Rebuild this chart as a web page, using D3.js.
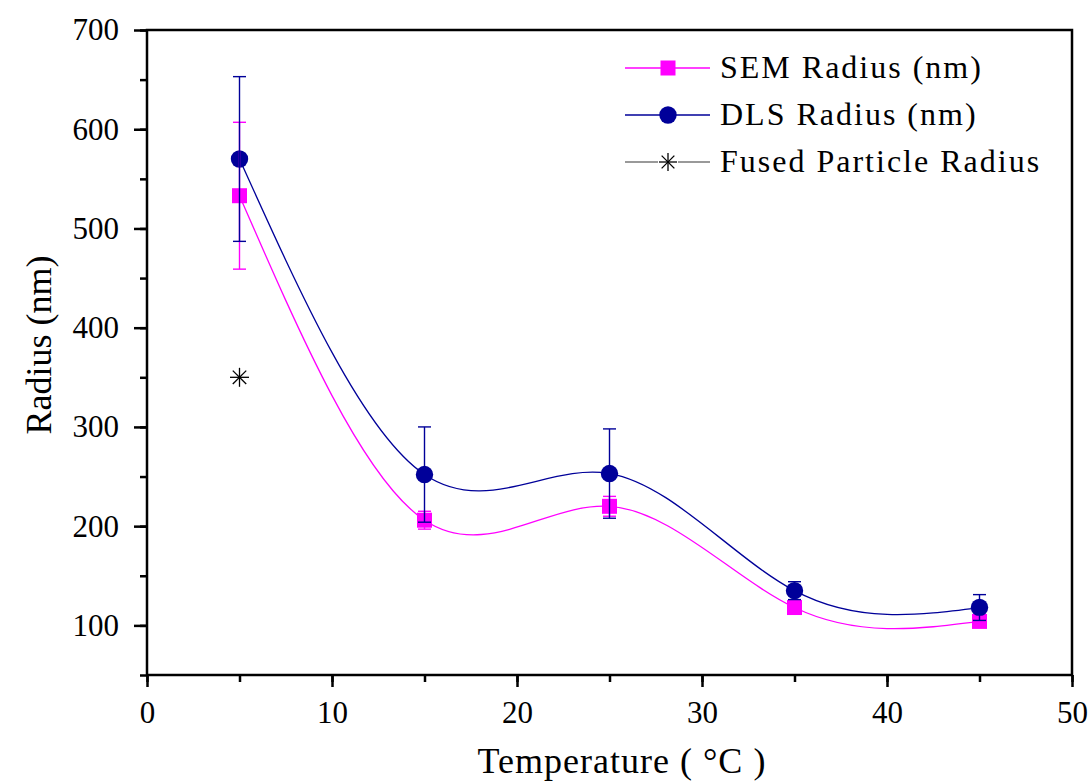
<!DOCTYPE html>
<html>
<head>
<meta charset="utf-8">
<script src="https://cdn.jsdelivr.net/npm/d3@7"></script>
<style>
  html, body { margin: 0; padding: 0; background: #fff; }
  svg { display: block; }
</style>
</head>
<body>
<svg id="chart" width="1091" height="782"></svg>
<script>
// Temperature points (°C)
const temperature = [5, 15, 25, 35, 45];
// SEM radius and its standard deviation (nm)
const semRadius = [533, 206, 220, 118, 104];
const semError  = [74, 9, 10, 5, 5];
// DLS radius and its standard deviation (nm)
const dlsRadius = [570, 252, 253, 135, 118];
const dlsError  = [83, 48, 45, 9, 13];
// Fused particle radius (single measurement)
const fusedTemp = [5];
const fusedRadius = [350];

const xTicks = [0, 10, 20, 30, 40, 50];
const yTicks = [100, 200, 300, 400, 500, 600, 700];

const SEM_COLOR = "#ff00ff";
const DLS_COLOR = "#000099";
const FONT = "'Liberation Serif', 'DejaVu Serif', serif";

const svg = d3.select("#chart").attr("font-family", FONT);
const plotLeft = 147, plotRight = 1072, plotTop = 30, plotBottom = 675;

const x = d3.scaleLinear().domain([0, 50]).range([plotLeft, plotRight]);
const y = d3.scaleLinear().domain([50, 700]).range([plotBottom, plotTop]);

// Minor ticks (every 5 °C and 50 nm), then labelled major ticks
const gx = svg.append("g").attr("transform", `translate(0,${plotBottom})`);
gx.call(d3.axisBottom(x).tickValues(d3.range(0, 51, 5)).tickSize(7).tickFormat(""));
gx.select(".domain").remove();
const gx2 = svg.append("g").attr("transform", `translate(0,${plotBottom})`);
gx2.call(d3.axisBottom(x).tickValues(xTicks).tickSize(12).tickPadding(14).tickFormat(d3.format("d")));
gx2.select(".domain").remove();

const gy = svg.append("g").attr("transform", `translate(${plotLeft},0)`);
gy.call(d3.axisLeft(y).tickValues(d3.range(50, 701, 50)).tickSize(7).tickFormat(""));
gy.select(".domain").remove();
const gy2 = svg.append("g").attr("transform", `translate(${plotLeft},0)`);
gy2.call(d3.axisLeft(y).tickValues(yTicks).tickSize(13).tickPadding(15).tickFormat(d3.format("d")));
gy2.select(".domain").remove();

svg.selectAll("g").attr("font-family", FONT);
svg.selectAll(".tick line").attr("stroke", "#000").attr("stroke-width", 2.5);
svg.selectAll(".tick text")
  .attr("font-family", FONT)
  .attr("font-size", 31)
  .attr("fill", "#000");
gx2.selectAll(".tick text").attr("dy", "0.71em");

// Frame
svg.append("rect")
  .attr("x", plotLeft).attr("y", plotTop)
  .attr("width", plotRight - plotLeft).attr("height", plotBottom - plotTop)
  .attr("fill", "none").attr("stroke", "#000").attr("stroke-width", 2.5);

// Axis titles
svg.append("text")
  .attr("x", 622).attr("y", 773)
  .attr("text-anchor", "middle")
  .attr("font-family", FONT)
  .attr("font-size", 36).attr("letter-spacing", 1)
  .text("Temperature ( °C )");

svg.append("text")
  .attr("transform", "translate(51,345) rotate(-90)")
  .attr("text-anchor", "middle")
  .attr("font-family", FONT)
  .attr("font-size", 36)
  .text("Radius (nm)");

const sem = temperature.map((t, i) => ({ t, r: semRadius[i], e: semError[i] }));
const dls = temperature.map((t, i) => ({ t, r: dlsRadius[i], e: dlsError[i] }));

const line = d3.line().x(d => x(d.t)).y(d => y(d.r)).curve(d3.curveNatural);

// Smoothed curves
svg.append("path").datum(sem).attr("d", line)
  .attr("fill", "none").attr("stroke", SEM_COLOR).attr("stroke-width", 1.3);
svg.append("path").datum(dls).attr("d", line)
  .attr("fill", "none").attr("stroke", DLS_COLOR).attr("stroke-width", 1.3);

// Markers
const sq = 15;
svg.append("g").selectAll("rect").data(sem).join("rect")
  .attr("x", d => x(d.t) - sq / 2).attr("y", d => y(d.r) - sq / 2)
  .attr("width", sq).attr("height", sq)
  .attr("fill", SEM_COLOR);
svg.append("g").selectAll("circle").data(dls).join("circle")
  .attr("cx", d => x(d.t)).attr("cy", d => y(d.r)).attr("r", 8.7)
  .attr("fill", DLS_COLOR);

// Error bars
function errorBars(data, color) {
  const g = svg.append("g").attr("stroke", color).attr("stroke-width", 1.4).attr("fill", "none");
  const cap = 6.5;
  data.forEach(d => {
    const cx = x(d.t), y1 = y(d.r + d.e), y2 = y(d.r - d.e);
    g.append("line").attr("x1", cx).attr("x2", cx).attr("y1", y1).attr("y2", y2);
    g.append("line").attr("x1", cx - cap).attr("x2", cx + cap).attr("y1", y1).attr("y2", y1);
    g.append("line").attr("x1", cx - cap).attr("x2", cx + cap).attr("y1", y2).attr("y2", y2);
  });
}
errorBars(sem, SEM_COLOR);
errorBars(dls, DLS_COLOR);

// Asterisk marker
function asterisk(g, cx, cy, s, color) {
  const a = s / 2, b = a * 0.7071;
  const p = g.append("g").attr("stroke", color).attr("stroke-width", 1.3);
  p.append("line").attr("x1", cx - a).attr("x2", cx + a).attr("y1", cy).attr("y2", cy);
  p.append("line").attr("x1", cx).attr("x2", cx).attr("y1", cy - a).attr("y2", cy + a);
  p.append("line").attr("x1", cx - b).attr("x2", cx + b).attr("y1", cy - b).attr("y2", cy + b);
  p.append("line").attr("x1", cx - b).attr("x2", cx + b).attr("y1", cy + b).attr("y2", cy - b);
}
fusedTemp.forEach((t, i) => asterisk(svg, x(t), y(fusedRadius[i]), 19, "#000"));

// Legend
const legend = svg.append("g");
const legendItems = [
  { label: "SEM Radius (nm)", color: SEM_COLOR, mark: "square" },
  { label: "DLS Radius (nm)", color: DLS_COLOR, mark: "circle" },
  { label: "Fused Particle Radius", color: "#777", mark: "star" }
];
legendItems.forEach((item, i) => {
  const cy = 68 + i * 47;
  legend.append("line").attr("x1", 625).attr("x2", 710).attr("y1", cy).attr("y2", cy)
    .attr("stroke", item.color).attr("stroke-width", 1.3);
  if (item.mark === "square") {
    legend.append("rect").attr("x", 668 - sq / 2).attr("y", cy - sq / 2)
      .attr("width", sq).attr("height", sq).attr("fill", item.color);
  } else if (item.mark === "circle") {
    legend.append("circle").attr("cx", 668).attr("cy", cy).attr("r", 8.7).attr("fill", item.color);
  } else {
    legend.append("rect").attr("x", 658).attr("y", cy - 2).attr("width", 20).attr("height", 4).attr("fill", "#fff");
    asterisk(legend, 668, cy, 18, "#000");
  }
  legend.append("text").attr("x", 720).attr("y", cy + 10)
    .attr("font-family", FONT)
    .attr("font-size", 32).attr("letter-spacing", 2)
    .text(item.label);
});
</script>
</body>
</html>
